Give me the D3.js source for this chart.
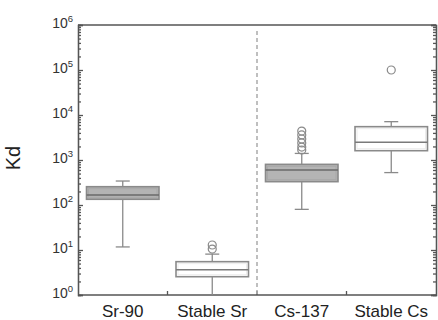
<!DOCTYPE html>
<html>
<head>
<meta charset="utf-8">
<script src="https://cdn.jsdelivr.net/npm/d3@7"></script>
<style>
  body { margin: 0; background: #fff; }
  text { font-family: "Liberation Sans", Arial, sans-serif; fill: #222; }
</style>
</head>
<body>
<svg id="chart" width="438" height="320"></svg>
<script>
const categories = ['Sr-90', 'Stable Sr', 'Cs-137', 'Stable Cs'];
const lowWhisker = [11.7, 0.5, 80, 525];
const q1 = [134, 2.55, 330, 1610];
const medians = [167, 3.65, 600, 2470];
const q3 = [255, 5.5, 800, 5500];
const highWhisker = [341, 8.1, 1400, 7110];
const outliers = [
  [],
  [10.5, 12.9],
  [1670, 1940, 2390, 2930, 3600, 4400],
  [100000]
];
const filled = [true, false, true, false];
const decades = [0, 1, 2, 3, 4, 5, 6];

const margin = { top: 25, right: 2, bottom: 25, left: 78 };
const width = 438, height = 320;
const svg = d3.select('#chart');

const x = d3.scaleBand()
  .domain(categories)
  .range([margin.left, width - margin.right])
  .paddingInner(0)
  .paddingOuter(0);

const y = d3.scaleLog()
  .domain([1, 1e6])
  .range([height - margin.bottom, margin.top])
  .clamp(true);

const boxW = x.bandwidth() * 0.81;
const capW = 14;

// left axis: inward ticks
const major = decades.map(d => Math.pow(10, d));
const minor = y.ticks().filter(v => !major.includes(v));

const axL = svg.append('g').attr('transform', `translate(${margin.left},0)`);
axL.call(d3.axisLeft(y).tickValues(major).tickSize(-5).tickFormat(''));
axL.call(g => g.append('g').call(d3.axisLeft(y).tickValues(minor).tickSize(-3).tickFormat('')));

const axR = svg.append('g').attr('transform', `translate(${width - margin.right},0)`);
axR.call(d3.axisRight(y).tickValues(major).tickSize(-5).tickFormat(''));
axR.call(g => g.append('g').call(d3.axisRight(y).tickValues(minor).tickSize(-3).tickFormat('')));

// bottom axis ticks on category boundaries
const bounds = categories.slice(1).map(c => x(c));
const axB = svg.append('g').attr('transform', `translate(0,${height - margin.bottom})`);
axB.append('line')
  .attr('x1', margin.left).attr('x2', width - margin.right);
axB.selectAll('.bt').data(bounds).join('line')
  .attr('class', 'bt')
  .attr('x1', d => d).attr('x2', d => d)
  .attr('y1', 0).attr('y2', -4);

svg.append('line')
  .attr('x1', margin.left).attr('x2', width - margin.right)
  .attr('y1', margin.top).attr('y2', margin.top);

svg.selectAll('.domain, g.tick line, line').attr('stroke', '#555').attr('stroke-width', 1.3);
svg.selectAll('.domain').attr('fill', 'none');

// y tick labels 10^n
svg.append('g').selectAll('text').data(decades).join('text')
  .attr('x', 73)
  .attr('y', d => y(Math.pow(10, d)) + 3)
  .attr('text-anchor', 'end')
  .style('font-size', '14px')
  .style('fill', '#333')
  .call(t => {
    t.append('tspan').text('10');
    t.append('tspan').attr('dy', -6).style('font-size', '9.5px').text(d => d);
  });

// x labels
svg.append('g').selectAll('text').data(categories).join('text')
  .attr('x', d => x(d) + x.bandwidth() / 2)
  .attr('y', 317)
  .attr('text-anchor', 'middle')
  .style('font-size', '17px')
  .text(d => d);

svg.append('text')
  .attr('transform', 'translate(20,158) rotate(-90)')
  .attr('text-anchor', 'middle')
  .style('font-size', '20px')
  .text('Kd');

// dashed separator
svg.append('line')
  .attr('x1', x('Cs-137')).attr('x2', x('Cs-137'))
  .attr('y1', margin.top + 6).attr('y2', height - margin.bottom)
  .attr('stroke', '#aaa')
  .attr('stroke-width', 1.5)
  .attr('stroke-dasharray', '4,3');

// boxes
svg.append('clipPath').attr('id', 'plot')
  .append('rect')
  .attr('x', margin.left).attr('y', margin.top)
  .attr('width', width - margin.left - margin.right)
  .attr('height', height - margin.top - margin.bottom);

const boxes = svg.append('g').attr('clip-path', 'url(#plot)')
  .selectAll('g').data(categories).join('g')
  .attr('transform', d => `translate(${x(d) + x.bandwidth() / 2},0)`);

const grey = '#8a8a8a';

boxes.append('line')
  .attr('y1', (d, i) => y(q3[i])).attr('y2', (d, i) => y(highWhisker[i]))
  .attr('stroke', grey).attr('stroke-width', 1.3);
boxes.append('line')
  .attr('y1', (d, i) => y(q1[i])).attr('y2', (d, i) => y(lowWhisker[i]))
  .attr('stroke', grey).attr('stroke-width', 1.3);
boxes.append('line')
  .attr('x1', -capW / 2).attr('x2', capW / 2)
  .attr('y1', (d, i) => y(highWhisker[i])).attr('y2', (d, i) => y(highWhisker[i]))
  .attr('stroke', grey).attr('stroke-width', 1.3);
boxes.filter((d, i) => lowWhisker[i] >= 1).append('line')
  .attr('x1', -capW / 2).attr('x2', capW / 2)
  .attr('y1', d => y(lowWhisker[categories.indexOf(d)]))
  .attr('y2', d => y(lowWhisker[categories.indexOf(d)]))
  .attr('stroke', grey).attr('stroke-width', 1.3);

boxes.append('rect')
  .attr('x', -boxW / 2).attr('width', boxW)
  .attr('y', (d, i) => y(q3[i]))
  .attr('height', (d, i) => y(q1[i]) - y(q3[i]))
  .attr('fill', (d, i) => filled[i] ? '#b4b4b4' : '#fff')
  .attr('stroke', grey).attr('stroke-width', 1.6);
boxes.append('rect')
  .attr('x', -boxW / 2 + 2).attr('width', boxW - 4)
  .attr('y', (d, i) => y(q3[i]) + 2)
  .attr('height', (d, i) => y(q1[i]) - y(q3[i]) - 4)
  .attr('fill', 'none')
  .attr('stroke', (d, i) => filled[i] ? '#a8a8a8' : '#ececec').attr('stroke-width', 1);

boxes.append('line')
  .attr('x1', -boxW / 2).attr('x2', boxW / 2)
  .attr('y1', (d, i) => y(medians[i])).attr('y2', (d, i) => y(medians[i]))
  .attr('stroke', (d, i) => filled[i] ? '#6a6a6a' : '#7a7a7a').attr('stroke-width', 1.5);

boxes.selectAll('circle').data((d, i) => outliers[i]).join('circle')
  .attr('cx', 0).attr('cy', v => y(v)).attr('r', 4)
  .attr('fill', 'none').attr('stroke', grey).attr('stroke-width', 1.2);
</script>
</body>
</html>
